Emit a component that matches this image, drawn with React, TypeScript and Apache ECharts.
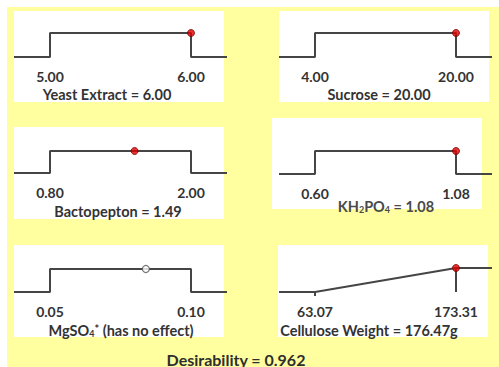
import React, { useEffect, useRef } from "react";
import * as echarts from "echarts";

// ---- data ----
const factorNames = ["Yeast Extract", "Sucrose", "Bactopepton", "KH2PO4", "MgSO4*", "Cellulose Weight"];
const lowValues = [5.0, 4.0, 0.8, 0.6, 0.05, 63.07];
const highValues = [6.0, 20.0, 2.0, 1.08, 0.1, 173.31];
const settingTexts = [
  "Yeast Extract = 6.00",
  "Sucrose = 20.00",
  "Bactopepton = 1.49",
  "KH{s|2}PO{s|4} = 1.08",
  "MgSO{s|4}{p|*} (has no effect)",
  "Cellulose Weight = 176.47g",
];
const dotPositions = [6.0, 20.0, 1.52, 1.08, 0.084, 173.31];
const dotActive = [true, true, true, true, false, true];
const shapes = ["step", "step", "step", "step", "step", "ramp"];
const desirabilityText = "Desirability = 0.962";

// ---- layout ----
const PAD = 36;
const SPAN = 141;
const panelLayout = [
  { left: 14, top: 33, base: 57, tx: 107, ty: 94, rect: [14, 11, 210, 91] },
  { left: 279, top: 33, base: 57, tx: 379, ty: 94, rect: [279, 11, 210, 91] },
  { left: 14, top: 151, base: 173, tx: 118, ty: 211, rect: [14, 127, 210, 92] },
  { left: 279, top: 151, base: 174, tx: 386, ty: 206, rect: [272, 118, 210, 91] },
  { left: 14, top: 269, base: 292, tx: 121, ty: 330, rect: [14, 245, 210, 92] },
  { left: 279, top: 268, base: 292, tx: 369, ty: 330, rect: [278, 245, 210, 92] },
];

const LINE = "#454545";
const TEXT = "#333333";
const FONT = "Lato, 'Open Sans', sans-serif";

export default function App() {
  const ref = useRef<HTMLDivElement>(null);
  useEffect(() => {
    if (!ref.current) return;
    const chart = echarts.init(ref.current, undefined, { renderer: "svg" });

    const grid: any[] = [];
    const xAxis: any[] = [];
    const yAxis: any[] = [];
    const series: any[] = [];
    const graphic: any[] = [
      { type: "rect", z: -10, shape: { x: 7, y: 7, width: 492, height: 360 }, style: { fill: "#FFFFA0" } },
    ];

    factorNames.forEach((name, i) => {
      const L = panelLayout[i];
      const lo = lowValues[i];
      const hi = highValues[i];
      const ext = (PAD / SPAN) * (hi - lo);
      const xMin = lo - ext;
      const xMax = hi + ext;
      graphic.push({
        type: "rect",
        z: -5,
        shape: { x: L.rect[0], y: L.rect[1], width: L.rect[2], height: L.rect[3] },
        style: { fill: "#ffffff" },
      });
      grid.push({
        left: L.left,
        top: L.top,
        width: PAD * 2 + SPAN,
        height: L.base - L.top,
        containLabel: false,
        outerBoundsMode: "none",
      });
      xAxis.push({
        type: "value",
        gridIndex: i,
        min: xMin,
        max: xMax,
        axisLine: { show: false },
        splitLine: { show: false },
        axisTick: {
          show: shapes[i] === "ramp",
          customValues: [lo],
          length: 4,
          inside: false,
          lineStyle: { color: LINE, width: 2 },
        },
        axisLabel: {
          customValues: [lo, hi],
          formatter: (v: number) => v.toFixed(2),
          margin: 12,
          fontFamily: FONT,
          fontWeight: "bold",
          fontSize: 14,
          color: TEXT,
          hideOverlap: false,
        },
      });
      yAxis.push({ type: "value", gridIndex: i, min: 0, max: 1, show: false });

      const lineData =
        shapes[i] === "step"
          ? [
              [xMin, 0],
              [lo, 0],
              [lo, 1],
              [hi, 1],
              [hi, 0],
              [xMax, 0],
            ]
          : [
              [xMin, 0],
              [lo, 0],
              [hi, 1],
              [xMax, 1],
            ];
      series.push({
        type: "line",
        name: name,
        xAxisIndex: i,
        yAxisIndex: i,
        data: lineData,
        showSymbol: false,
        clip: false,
        silent: true,
        lineStyle: { color: LINE, width: 2 },
      });
      if (shapes[i] === "ramp") {
        series.push({
          type: "line",
          xAxisIndex: i,
          yAxisIndex: i,
          data: [
            [hi, 1],
            [hi, 0],
          ],
          showSymbol: false,
          clip: false,
          lineStyle: { color: LINE, width: 2 },
        });
      }
      series.push({
        type: "scatter",
        xAxisIndex: i,
        yAxisIndex: i,
        z: 5,
        clip: false,
        symbol: "circle",
        symbolSize: 7,
        data: [[dotPositions[i], 1]],
        itemStyle: dotActive[i]
          ? { color: "#e00000", borderColor: "#7a0000", borderWidth: 1 }
          : { color: "#ffffff", borderColor: "#555555", borderWidth: 1.2 },
      });
      const fill = i === 3 ? "#4a4a4a" : TEXT;
      graphic.push({
        type: "text",
        z: 10,
        x: L.tx,
        y: L.ty,
        style: {
          text: settingTexts[i],
          fontFamily: FONT,
          fontWeight: "bold",
          fontSize: 14.5,
          fill,
          align: "center",
          verticalAlign: "middle",
          rich: {
            s: { fontFamily: FONT, fontWeight: "bold", fontSize: 9, fill, padding: [7, 0, 0, 0] },
            p: { fontFamily: FONT, fontWeight: "bold", fontSize: 11, fill, padding: [0, 0, 3, 0] },
          },
        },
      });
    });

    graphic.push({
      type: "text",
      z: 10,
      x: 236,
      y: 359,
      style: {
        text: desirabilityText,
        fontFamily: FONT,
        fontWeight: "bold",
        fontSize: 16,
        fill: "#2e2e2e",
        align: "center",
        verticalAlign: "middle",
      },
    });

    chart.setOption({
      animation: false,
      backgroundColor: "#ffffff",
      grid,
      xAxis,
      yAxis,
      series,
      graphic,
    });
    return () => chart.dispose();
  }, []);

  return (
    <div
      ref={ref}
      style={{ position: "fixed", left: 0, top: 0, width: 499, height: 367 }}
    />
  );
}
